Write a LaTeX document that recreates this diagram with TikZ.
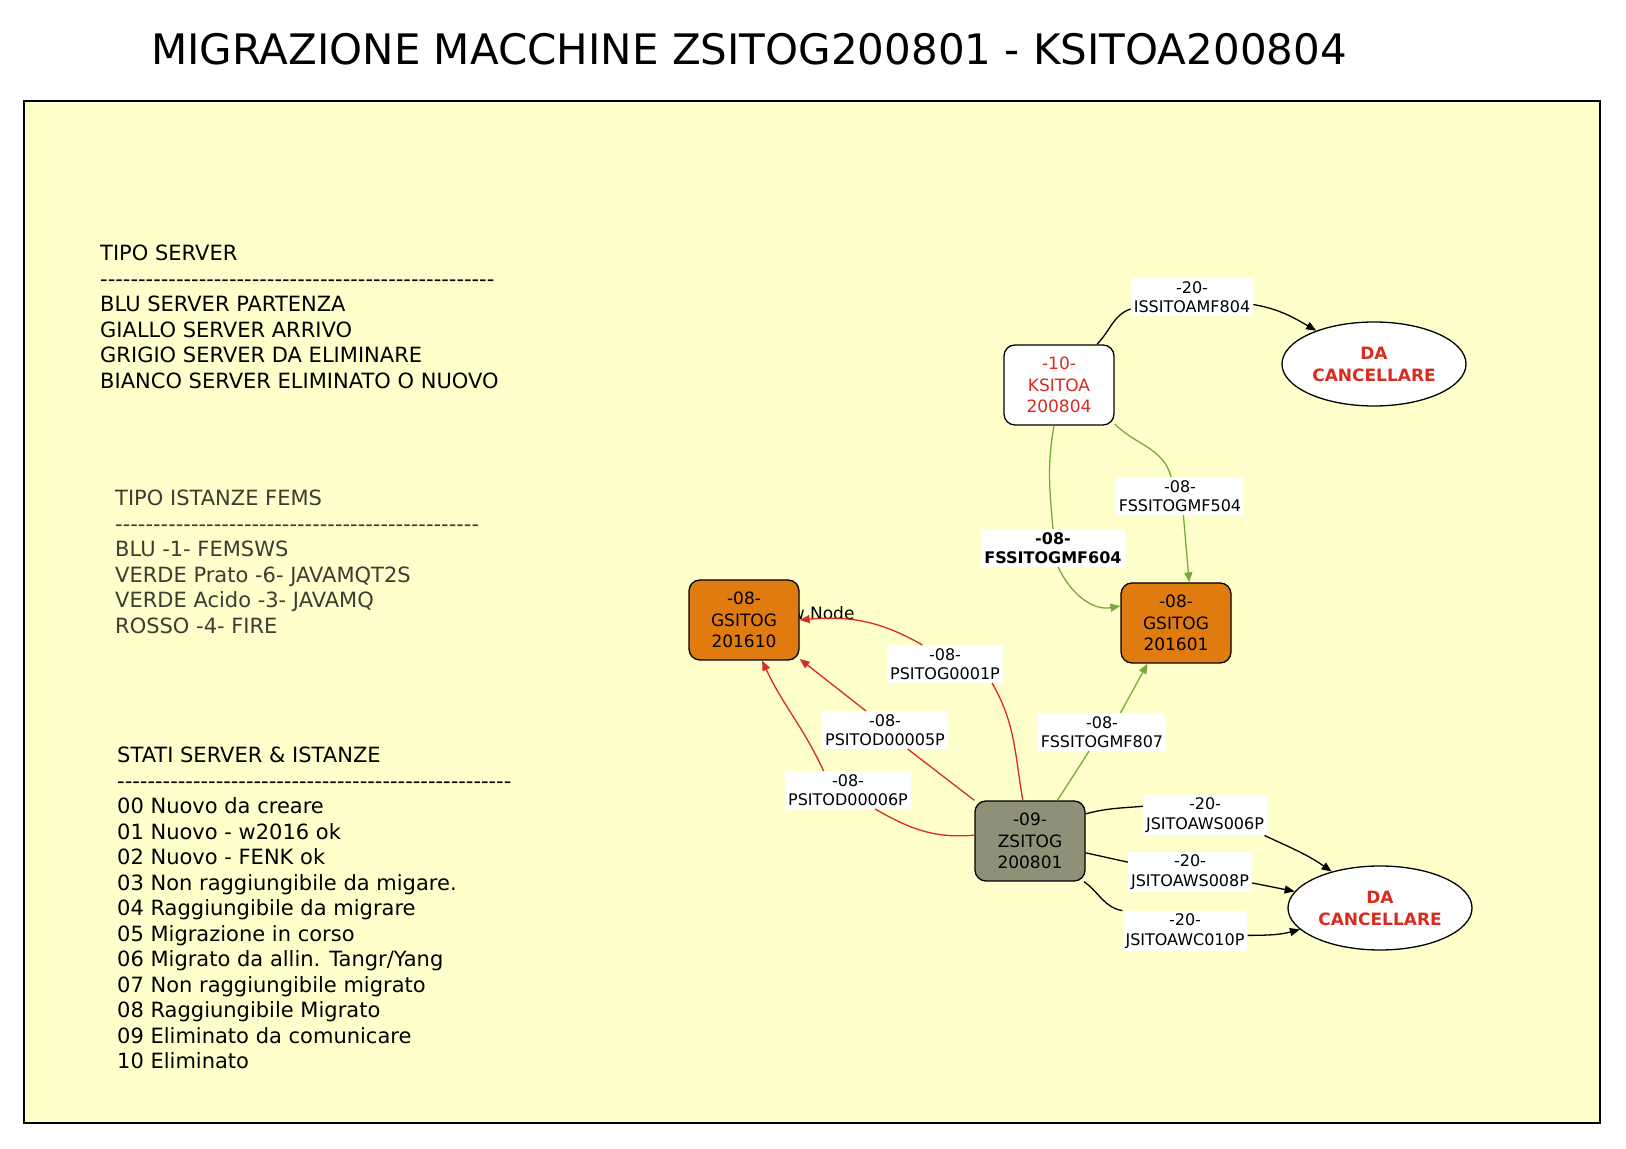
\documentclass[tikz,border=0pt]{standalone}
\usepackage{fontspec}
\setmainfont{DejaVu Sans}
\usetikzlibrary{arrows.meta, shapes.geometric}

\definecolor{fondo}{RGB}{255,255,204}
\definecolor{arancio}{RGB}{224,123,16}
\definecolor{grigio}{RGB}{143,144,120}
\definecolor{rosso}{RGB}{216,44,32}
\definecolor{verde}{RGB}{118,170,58}
\definecolor{scuro}{RGB}{60,60,50}

\newcommand{\trattini}[1]{\foreach \k in {1,...,#1}{-}}

\tikzset{
	server/.style={draw=black, line width=1.3pt, rounded corners=11pt, minimum width=110pt, minimum height=80pt, align=center, font=\fontsize{17}{21.5}\selectfont},
	cancella/.style={ellipse, draw=black, fill=white, line width=1.3pt, minimum width=170pt, minimum height=84pt, align=center, text=rosso, font=\fontsize{17}{22}\selectfont\bfseries},
	etichetta/.style={fill=white, inner xsep=3pt, inner ysep=3pt, align=center, font=\fontsize{16}{19.5}\selectfont},
	legenda/.style={anchor=north west, align=left, inner sep=0pt, font=\fontsize{21}{25.5}\selectfont},
	nero/.style={draw=black, line width=1.3pt},
	rossa/.style={draw=rosso, line width=1.3pt},
	verdel/.style={draw=verde, line width=1.3pt}
}

\begin{document}
\begin{tikzpicture}[x=1pt, y=1pt, >={Triangle[length=10pt, width=8pt]}]
	
	\fill[white] (0,0) rectangle (1626,1149);
	\useasboundingbox (0,0) rectangle (1626,1149);
	
	\node[font=\fontsize{42}{50}\selectfont] (titolo) at (749,1100) {MIGRAZIONE MACCHINE ZSITOG200801 - KSITOA200804};
	\draw[line width=1.3pt, fill=fondo] (24,26) rectangle (1600,1048);
	
	% legenda
	\node[legenda] (tiposerver) at (100,904) {TIPO SERVER\\\trattini{52}\\BLU SERVER PARTENZA\\GIALLO SERVER ARRIVO\\GRIGIO SERVER DA ELIMINARE\\BIANCO SERVER ELIMINATO O NUOVO};
	\node[legenda, text=scuro] (istanze) at (115,659) {TIPO ISTANZE FEMS\\\trattini{48}\\BLU -1- FEMSWS\\VERDE Prato -6- JAVAMQT2S\\VERDE Acido -3- JAVAMQ\\ROSSO -4- FIRE};
	\node[legenda] (stati) at (117,402) {STATI SERVER \& ISTANZE\\\trattini{52}\\00 Nuovo da creare\\01 Nuovo - w2016 ok\\02 Nuovo - FENK ok\\03 Non raggiungibile da migare.\\04 Raggiungibile da migrare\\05 Migrazione in corso\\06 Migrato da allin. Tangr/Yang\\07 Non raggiungibile migrato\\08 Raggiungibile Migrato\\09 Eliminato da comunicare\\10 Eliminato};
	
	% server
	\node[anchor=east, font=\fontsize{17}{20}\selectfont] (nuovo) at (858,536) {New Node};
	\node[server, fill=arancio] (g610) at (744,529) {-08-\\GSITOG\\201610};
	\node[server, fill=arancio] (g601) at (1176,526) {-08-\\GSITOG\\201601};
	\node[server, fill=white, text=rosso] (ksitoa) at (1059,764) {-10-\\KSITOA\\200804};
	\node[server, fill=grigio] (zsitog) at (1030,308) {-09-\\ZSITOG\\200801};
	\node[cancella] (da1) at (1374,785) {DA\\CANCELLARE};
	\node[cancella] (da2) at (1380,241) {DA\\CANCELLARE};
	
	% istanze
	\node[etichetta] (l1) at (1192,852) {-20-\\ISSITOAMF804};
	\node[etichetta] (l2) at (1180,653) {-08-\\FSSITOGMF504};
	\node[etichetta, font=\fontsize{16}{19.5}\selectfont\bfseries] (l3) at (1053,601) {-08-\\FSSITOGMF604};
	\node[etichetta] (l4) at (945,485) {-08-\\PSITOG0001P};
	\node[etichetta] (l5) at (885,419) {-08-\\PSITOD00005P};
	\node[etichetta] (l6) at (1102,417) {-08-\\FSSITOGMF807};
	\node[etichetta] (l7) at (848,359) {-08-\\PSITOD00006P};
	\node[etichetta] (l8) at (1205,334) {-20-\\JSITOAWS006P};
	\node[etichetta] (l9) at (1190,277) {-20-\\JSITOAWS008P};
	\node[etichetta] (l10) at (1185,218) {-20-\\JSITOAWC010P};
	
	\draw[nero] (ksitoa.47) to[out=45,in=200] (l1.191);
	\draw[nero, ->] (l1.-7) to[out=-10,in=150] (da1.150);
	
	\draw[verdel] (ksitoa.-35) to[out=-45,in=105] (l2.115);
	\draw[verdel, ->] (l2.-80) to[out=-85,in=95] (g601.72);
	\draw[verdel] (ksitoa.-97) to[out=-100,in=95] (l3.north);
	\draw[verdel, ->] (l3.-75) to[out=-65,in=190] (g601.163);
	\draw[verdel] (zsitog.56) -- (l6.-124);
	\draw[verdel, ->] (l6.46) -- (g601.-125);
	
	\draw[rossa] (zsitog.100) to[out=100,in=-60] (l4.-22);
	\draw[rossa, ->] (l4.140) to[out=150,in=5] (g610.east);
	\draw[rossa] (zsitog.north west) -- (l5.-40);
	\draw[rossa, ->] (l5.135) -- (g610.-35);
	\draw[rossa] (zsitog.174) to[out=185,in=-30] (l7.-35);
	\draw[rossa, ->] (l7.142) to[out=115,in=-65] (g610.-66);
	
	\draw[nero] (zsitog.26) to[out=15,in=185] (l8.172);
	\draw[nero, ->] (l8.-19) to[out=-25,in=145] (da2.143);
	\draw[nero] (zsitog.-12) -- (l9.171);
	\draw[nero, ->] (l9.-10) -- (da2.169);
	\draw[nero] (zsitog.-37) to[out=-35,in=170] (l10.162);
	\draw[nero, ->] (l10.-4) to[out=0,in=195] (da2.195);
\end{tikzpicture}
\end{document}
